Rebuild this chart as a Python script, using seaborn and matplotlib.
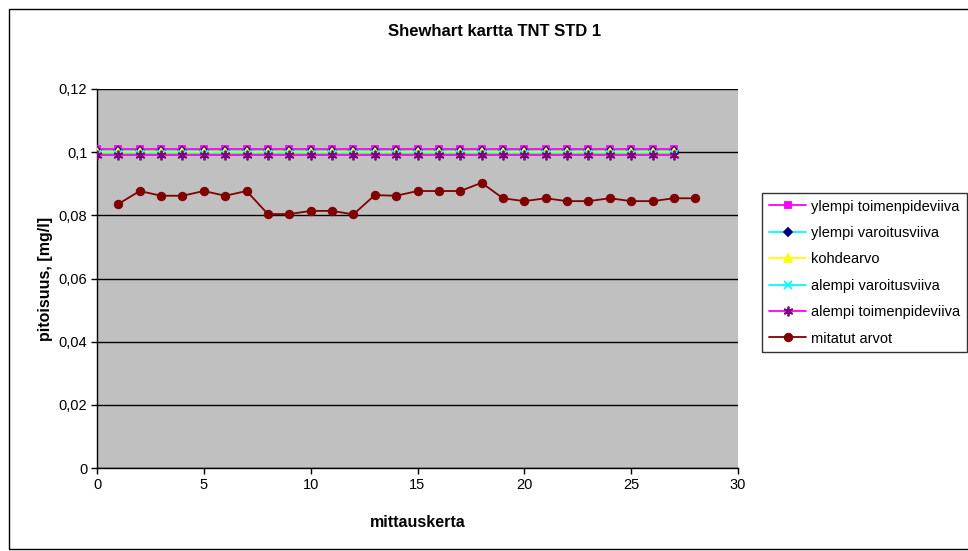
import matplotlib
matplotlib.use("Agg")
import matplotlib.pyplot as plt
import seaborn as sns
import numpy as np
from matplotlib.patches import Rectangle
from matplotlib.ticker import FuncFormatter

sns.set_theme(style="white")
plt.rcParams['font.family'] = ['Liberation Sans', 'DejaVu Sans']
plt.rcParams['text.color'] = 'black'
plt.rcParams['axes.labelcolor'] = 'black'
plt.rcParams['xtick.color'] = 'black'
plt.rcParams['ytick.color'] = 'black'

# ---- data ----
control_x = list(range(0, 28))
ylempi_toimenpide = [0.101] * 28
ylempi_varoitus = [0.1005] * 28
kohdearvo = [0.100] * 28
alempi_varoitus = [0.0995] * 28
alempi_toimenpide = [0.099] * 28

measured_x = list(range(1, 29))
mitatut_arvot = [0.0836, 0.0877, 0.0862, 0.0862, 0.0877, 0.0862, 0.0877, 0.0804,
                 0.0804, 0.0814, 0.0814, 0.0803, 0.0864, 0.0862, 0.0877, 0.0877,
                 0.0877, 0.0903, 0.0854, 0.0845, 0.0854, 0.0845, 0.0845, 0.0854,
                 0.0845, 0.0845, 0.0854, 0.0854]

title = "Shewhart kartta TNT STD 1"
xlabel = "mittauskerta"
ylabel = "pitoisuus, [mg/l]"
yticks = [0, 0.02, 0.04, 0.06, 0.08, 0.10, 0.12]
xticks = [0, 5, 10, 15, 20, 25, 30]

W, H = 968, 551
fig = plt.figure(figsize=(W / 100, H / 100), dpi=100)
ax = fig.add_axes([97 / W, 1 - 468 / H, (738 - 97) / W, (468 - 89) / H])
ax.set_facecolor("#C0C0C0")

# outer chart border
fig.patches.append(Rectangle((9 / W, 2 / H), (W + 5) / W, (H - 11) / H,
                             transform=fig.transFigure, fill=False,
                             edgecolor="black", linewidth=1.0, zorder=0))

series = [
    ("ylempi toimenpideviiva", control_x, ylempi_toimenpide, "#FF00FF", "s", "#FF00FF", 5),
    ("ylempi varoitusviiva", control_x, ylempi_varoitus, "#00FFFF", "D", "#000080", 4.5),
    ("kohdearvo", control_x, kohdearvo, "#FFFF00", "^", "#FFFF00", 5.5),
    ("alempi varoitusviiva", control_x, alempi_varoitus, "#00FFFF", "x", "#00FFFF", 6),
    ("alempi toimenpideviiva", control_x, alempi_toimenpide, "#FF00FF", (6, 2, 0), "#800080", 7),
]
for name, xs, ys, lc, mk, mc, ms in series:
    sns.lineplot(x=xs, y=ys, ax=ax, color=lc, linewidth=1.3, marker=mk,
                 markersize=ms, markerfacecolor=mc, markeredgecolor=mc,
                 markeredgewidth=1.3, label=name, zorder=3)

sns.lineplot(x=measured_x, y=mitatut_arvot, ax=ax, color="#800000", linewidth=1.3,
             marker="o", markersize=6, markerfacecolor="#800000",
             markeredgecolor="#800000", label="mitatut arvot", zorder=4)

ax.set_xlim(0, 30)
ax.set_ylim(0, 0.12)
ax.set_xticks(xticks)
ax.set_yticks(yticks)
ax.yaxis.grid(True, color="black", linewidth=1.0)
ax.set_axisbelow(True)
ax.xaxis.grid(False)

fmt = FuncFormatter(lambda v, p: ("%g" % round(v, 4)).replace(".", ","))
ax.yaxis.set_major_formatter(fmt)
ax.tick_params(axis="both", direction="out", length=4, width=1, colors="black",
               labelcolor="black", labelsize=10.5, bottom=True, left=True, pad=3)

for side in ["top", "right"]:
    ax.spines[side].set_visible(False)
for side in ["left", "bottom"]:
    ax.spines[side].set_color("black")
    ax.spines[side].set_linewidth(1)

ax.set_xlabel(xlabel, fontsize=11.5, fontweight="bold", labelpad=17, color="black")
ax.set_ylabel(ylabel, fontsize=11.5, fontweight="bold", labelpad=4, color="black")
fig.text(495 / W, 1 - 32 / H, title, ha="center", va="center",
         fontsize=12, fontweight="bold", color="black")

leg = ax.legend(loc="upper left", bbox_to_anchor=(762 / W, 1 - 193 / H),
                bbox_transform=fig.transFigure, fontsize=10.5, frameon=True,
                fancybox=False, borderpad=0.45, labelspacing=0.85,
                handlelength=2.6, handletextpad=0.3, borderaxespad=0)
leg.get_frame().set_edgecolor("black")
leg.get_frame().set_linewidth(1)
leg.get_frame().set_facecolor("white")
for t in leg.get_texts():
    t.set_color("black")

fig.savefig("out.png", dpi=100, facecolor="white")
